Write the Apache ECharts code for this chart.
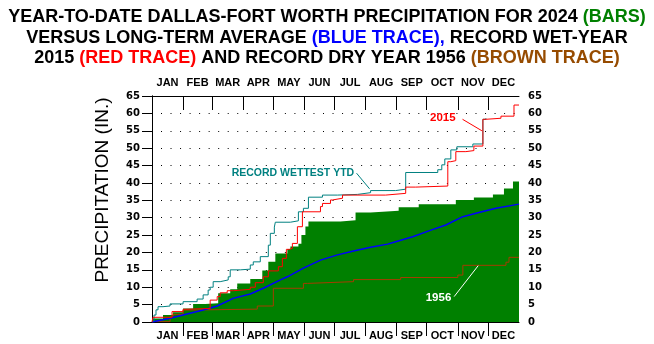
<!DOCTYPE html>
<html>
<head>
<meta charset="utf-8">
<script src="https://cdn.jsdelivr.net/npm/echarts@6/dist/echarts.min.js"></script>
<style>
html,body{margin:0;padding:0;background:#fff;}
#c{width:654px;height:344px;}
</style>
</head>
<body>
<div id="c"></div>
<script>
// ---- data ----
const months = ['JAN','FEB','MAR','APR','MAY','JUN','JUL','AUG','SEP','OCT','NOV','DEC'];
const monthDays = [31,29,31,30,31,30,31,31,30,31,30,31];
const yTicks = [0,5,10,15,20,25,30,35,40,45,50,55,60,65];

// [day of year, cumulative inches]
const ytd2024 = [[0,0.3],[1,1.0],[11,2.0],[21,2.8],[31,3.9],[41,5.2],[53,5.4],[66,8.3],[78,9.4],[85,11.1],[98,12.4],[110,14.8],[116,17.3],[123,19.7],[135,21.0],[138,21.7],[146,22.5],[149,25.0],[153,27.5],[156,28.9],[188,29.3],[203,31.5],[218,32.0],[246,33.0],[266,33.9],[303,35.1],[321,35.8],[340,36.7],[351,38.4],[360,40.4],[366,40.4]];
const normal = [[0,0],[18,1.05],[31,2.0],[51,3.45],[65,4.6],[81,6.8],[98,8.05],[111,9.7],[128,12.1],[135,13.0],[151,15.5],[168,17.8],[185,19.3],[201,20.4],[218,21.5],[235,22.4],[243,23.1],[260,24.5],[276,26.2],[293,27.9],[310,30.3],[326,31.5],[343,32.7],[366,33.9]];
const wettestYTD = [[0,0.3],[2,2.0],[4,3.5],[6,4.4],[11,4.6],[18,5.2],[31,5.85],[45,6.6],[51,7.8],[56,9.2],[58,10.0],[61,11.6],[68,12.1],[76,13.0],[78,15.0],[88,15.2],[98,16.4],[101,17.3],[108,18.8],[116,22.1],[118,25.5],[122,27.3],[123,28.7],[138,29.1],[146,31.7],[151,32.7],[156,35.9],[170,36.5],[185,36.7],[205,37.2],[218,37.8],[243,38.2],[253,43.0],[285,43.8],[289,45.2],[292,46.9],[298,49.5],[304,50.4],[320,51.2],[330,58.3],[333,58.6]];
const wet2015 = [[0,0],[1,1.35],[20,3.0],[31,3.65],[33,3.9],[58,6.3],[65,7.3],[68,8.4],[75,9.0],[81,9.4],[98,10.0],[103,11.3],[111,13.0],[116,14.7],[126,15.9],[130,18.3],[134,20.9],[137,21.2],[140,22.6],[145,27.4],[150,31.7],[168,33.2],[170,34.1],[178,35.1],[180,35.6],[190,36.5],[233,37.0],[253,38.8],[263,39.1],[295,46.1],[298,46.4],[303,49.0],[313,49.3],[321,50.6],[330,58.3],[333,58.6],[348,59.2],[361,62.4],[366,62.4]];
const dry1956 = [[0,0.1],[18,1.5],[21,2.2],[31,3.45],[41,3.7],[105,4.6],[121,9.7],[151,11.1],[155,11.6],[201,12.2],[248,12.8],[305,13.5],[310,16.3],[353,17.2],[356,18.6],[366,18.6]];

// annotations: [text, labelDay, labelValue], leader [d1,v1,d2,v2]
const notes = [
  {text:'2015', at:[290,58.7], line:[309.7,58.3,329,55.0], color:'#ff0000'},
  {text:'RECORD WETTEST YTD', at:[140.5,42.9], line:[204,42.8,217,38.3], color:'#008080', size:10.5},
  {text:'1956', at:[285.7,6.9], line:[301.3,7.3,325.3,16.2], color:'#ffffff'}
];

// ---- derived ----
const monthStarts = [];
const monthMids = [];
let acc = 0;
monthDays.forEach((d,i)=>{ monthMids.push(acc + d/2); acc += d; if(i<11) monthStarts.push(acc); });
const totalDays = acc;
function monthName(v){
  let best=0, bd=1e9;
  monthMids.forEach((m,i)=>{ const dd=Math.abs(m-v); if(dd<bd){bd=dd;best=i;} });
  return months[best];
}

const FONT = '"Liberation Sans", Arial, sans-serif';
const monthLabel = {customValues: monthMids, formatter: monthName, color:'#000', fontFamily: FONT, fontWeight:'bold', fontSize:11, margin:8};
const yLabel = {color:'#000', fontFamily:'"DejaVu Sans", sans-serif', fontWeight:'bold', fontSize:10};

const chart = echarts.init(document.getElementById('c'), null, {renderer:'canvas'});
const option = {
  animation:false,
  backgroundColor:'#fff',
  grid:{left:152, right:135, top:96, bottom:22, containLabel:false},
  xAxis:[
    {type:'value', min:0, max:totalDays, position:'bottom',
     axisLine:{show:true, onZero:false, lineStyle:{color:'#000', width:1}},
     axisTick:{show:true, inside:false, length:14, customValues: monthStarts, lineStyle:{color:'#000'}},
     axisLabel: monthLabel, splitLine:{show:false}},
    {type:'value', min:0, max:totalDays, position:'top',
     axisLine:{show:true, onZero:false, lineStyle:{color:'#000', width:1}},
     axisTick:{show:true, inside:true, length:14, customValues: monthStarts, lineStyle:{color:'#000'}},
     axisLabel: Object.assign({}, monthLabel), splitLine:{show:false}}
  ],
  yAxis:[
    {type:'value', min:0, max:65, interval:5, position:'left',
     axisLine:{show:true, lineStyle:{color:'#000'}},
     axisTick:{show:false},
     axisLabel: Object.assign({margin:12}, yLabel),
     splitLine:{show:true, lineStyle:{color:'#000', width:1, type:[1,8.53], dashOffset:0.53}}},
    {type:'value', min:0, max:65, interval:5, position:'right',
     axisLine:{show:true, lineStyle:{color:'#000'}},
     axisTick:{show:true, inside:true, length:10, lineStyle:{color:'#000'}},
     axisLabel: Object.assign({margin:9}, yLabel),
     splitLine:{show:false}}
  ],
  series:[
    {name:'2024', type:'line', step:'end', data:ytd2024, showSymbol:false, symbol:'none',
     lineStyle:{width:0, color:'#008000'}, areaStyle:{color:'#008000', opacity:1}, z:2},
    {name:'1956', type:'line', step:'end', data:dry1956, symbol:'none', lineStyle:{width:1, color:'#a53c00'}, z:3},
    {name:'Average', type:'line', data:normal, symbol:'none', lineStyle:{width:1.5, color:'#0000ff'}, z:4},
    {name:'Wettest', type:'line', step:'end', data:wettestYTD, symbol:'none', lineStyle:{width:1, color:'#008080'}, z:5},
    {name:'2015', type:'line', step:'end', data:wet2015, symbol:'none', lineStyle:{width:1, color:'#ff0000'}, z:6}
  ]
};
chart.setOption(option);

const toPx = (d,v) => chart.convertToPixel({xAxisIndex:0, yAxisIndex:0}, [d,v]);
const TF = '"Liberation Sans", Arial, sans-serif';
const rs = c => ({fill:c, font:'bold 18px ' + TF, lineHeight:20.5});
const graphics = [];
// title
graphics.push({type:'text', x:327, y:7, z:100,
  style:{
    text:'YEAR-TO-DATE DALLAS-FORT WORTH PRECIPITATION FOR 2024 {g|(BARS)}\nVERSUS LONG-TERM AVERAGE {b|(BLUE TRACE),} RECORD WET-YEAR\n2015 {r|(RED TRACE)} AND RECORD DRY YEAR 1956 {o|(BROWN TRACE)}',
    fill:'#000', font:'bold 18px ' + TF, lineHeight:20.5, align:'center', verticalAlign:'top',
    rich:{g:rs('#008000'), b:rs('#0000ff'), r:rs('#ff0000'), o:rs('#964B00')}
  }});
// y axis name
graphics.push({type:'text', x:103, y:190, rotation:Math.PI/2,
  style:{text:'PRECIPITATION (IN.)', fill:'#000', font:'19px ' + TF, align:'center', verticalAlign:'middle'}});
notes.forEach(n=>{
  const p = toPx(n.at[0], n.at[1]);
  const a = toPx(n.line[0], n.line[1]);
  const b = toPx(n.line[2], n.line[3]);
  graphics.push({type:'text', x:p[0], y:p[1], z:100,
    style:{text:n.text, fill:n.color, font:'bold ' + (n.size||11.5) + 'px ' + TF, align:'center', verticalAlign:'middle'}});
  graphics.push({type:'line', z:100, shape:{x1:a[0], y1:a[1], x2:b[0], y2:b[1]}, style:{stroke:n.color, lineWidth:1}});
});
chart.setOption({graphic: graphics});
</script>
</body>
</html>
